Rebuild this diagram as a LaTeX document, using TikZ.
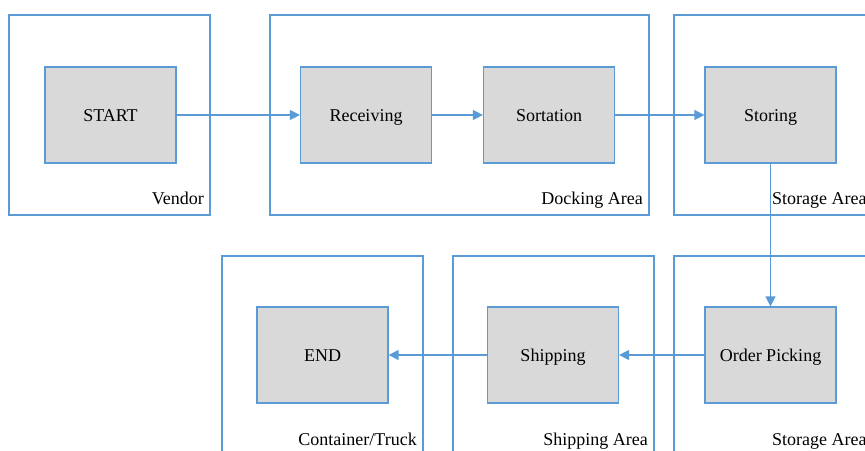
\documentclass[tikz,border=0pt]{standalone}
\usepackage{fontspec}
\setmainfont{Liberation Serif}
\usetikzlibrary{arrows.meta}
\definecolor{lineblue}{RGB}{91,155,213}
\definecolor{boxgray}{RGB}{217,217,217}
\tikzset{
  area/.style={draw=lineblue, line width=1.1pt, fill=none, inner sep=0pt},
  stepbox/.style={draw=lineblue, line width=1.2pt, fill=boxgray, inner sep=0pt,
    minimum width=131pt, minimum height=96pt, text height=13pt, text depth=0pt,
    font=\fontsize{18}{20}\selectfont},
  arealabel/.style={inner sep=0pt, font=\fontsize{18}{20}\selectfont},
  flow/.style={draw=lineblue, line width=1.3pt, -{Triangle[length=10pt,width=10pt]}}
}
\begin{document}
\begin{tikzpicture}[x=1pt,y=-1pt]
\useasboundingbox (0,0) rectangle (865,450);
\clip (0,0) rectangle (865,450);
\fill[white] (0,0) rectangle (865,450);
% areas
\node[area, minimum width=201pt, minimum height=200pt] (vendor) at (109.5,115) {};
\node[area, minimum width=379pt, minimum height=200pt] (dock) at (459.5,115) {};
\node[area, minimum width=201pt, minimum height=200pt] (stor1) at (774.5,115) {};
\node[area, minimum width=201pt, minimum height=200pt] (truck) at (322.5,356) {};
\node[area, minimum width=201pt, minimum height=200pt] (shiparea) at (553.5,356) {};
\node[area, minimum width=201pt, minimum height=200pt] (stor2) at (774.5,356) {};
% area labels
\node[arealabel, anchor=base east] (lvendor) at (204,204) {Vendor};
\node[arealabel, anchor=base east] (ldock) at (643,204) {Docking Area};
\node[arealabel, anchor=base west] (lstor1) at (772,204) {Storage Area};
\node[arealabel, anchor=base east] (ltruck) at (417,445) {Container/Truck};
\node[arealabel, anchor=base east] (lship) at (648,445) {Shipping Area};
\node[arealabel, anchor=base west] (lstor2) at (772,445) {Storage Area};
% steps
\node[stepbox] (start) at (110.5,115) {START};
\node[stepbox] (recv) at (366,115) {Receiving};
\node[stepbox] (sort) at (549,115) {Sortation};
\node[stepbox] (storing) at (770.5,115) {Storing};
\node[stepbox] (pick) at (770.5,355) {Order Picking};
\node[stepbox] (ship) at (553,355) {Shipping};
\node[stepbox] (end) at (322.5,355) {END};
% flows
\draw[flow] (start) -- (recv);
\draw[flow] (recv) -- (sort);
\draw[flow] (sort) -- (storing);
\draw[flow] (storing) -- (pick);
\draw[flow] (pick) -- (ship);
\draw[flow] (ship) -- (end);
\end{tikzpicture}
\end{document}
